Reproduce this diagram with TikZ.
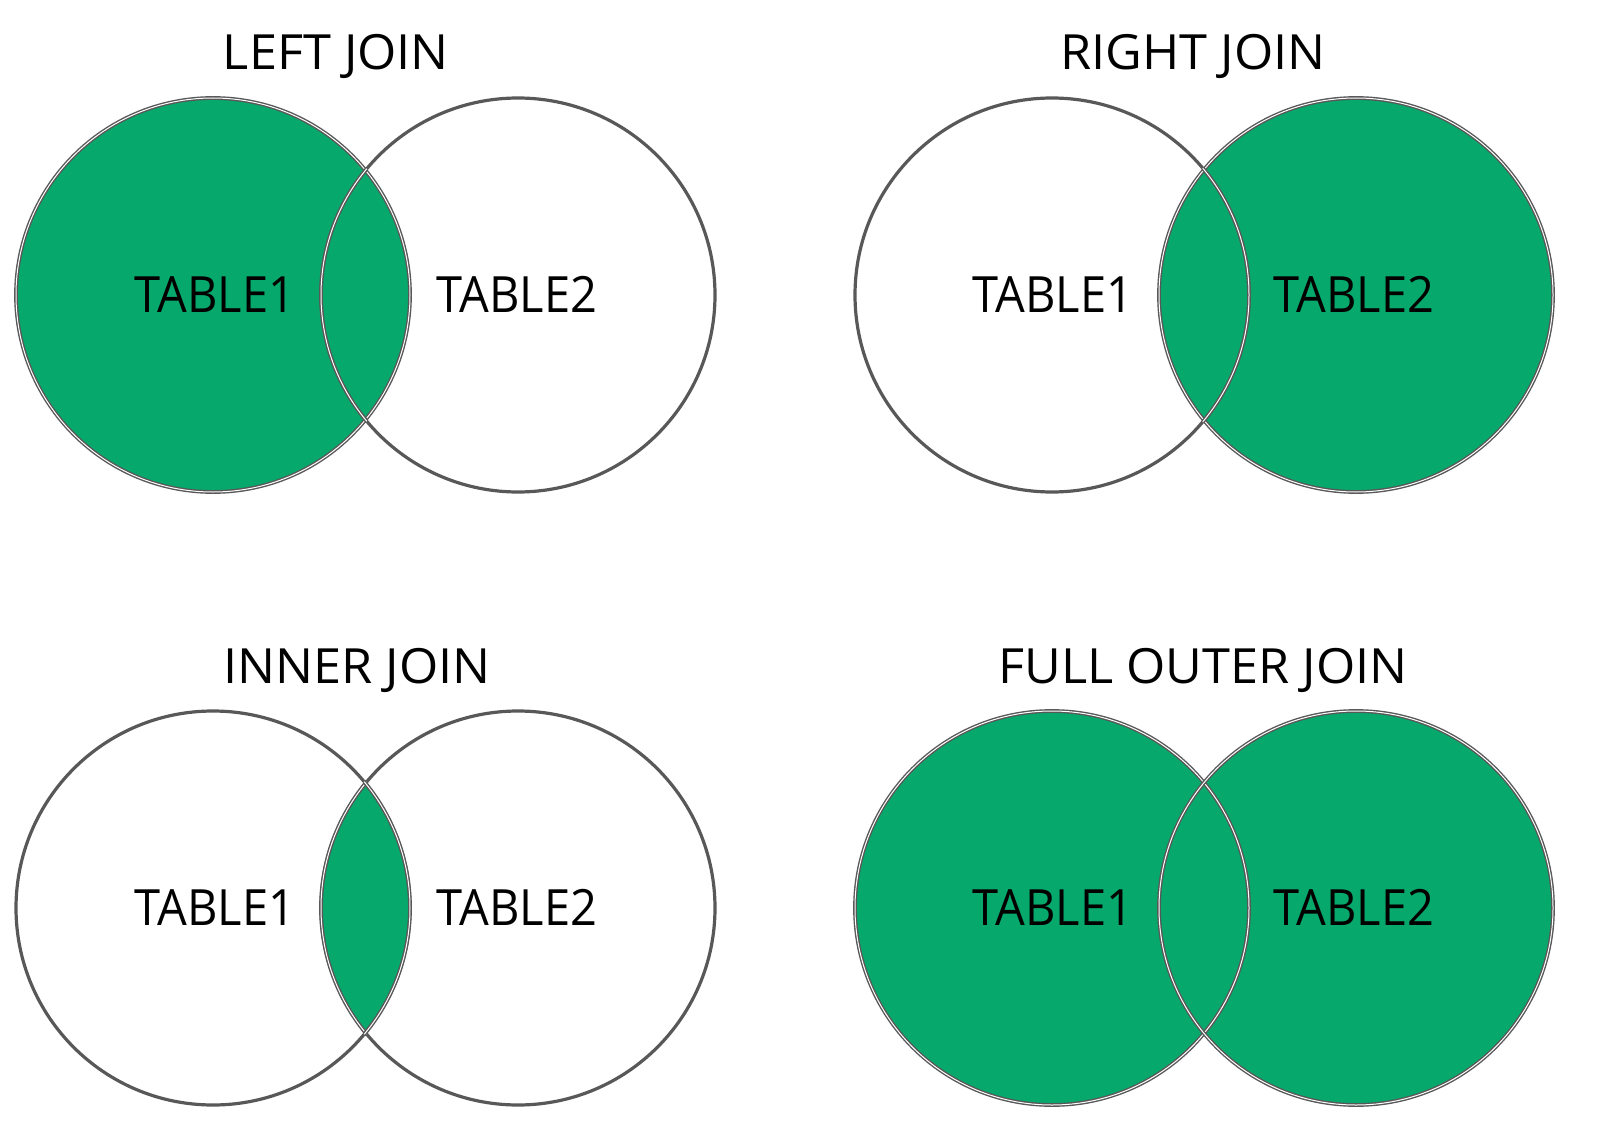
\documentclass[tikz,border=0pt]{standalone}
\usepackage{fontspec}
\setmainfont{Open Sans}
\newfontfamily\lblfont[FakeStretch=0.94]{Open Sans}
\newfontfamily\ttlfont[FakeStretch=1.04]{Open Sans}
\definecolor{joingreen}{RGB}{6,168,107}
\definecolor{edgegray}{RGB}{88,88,88}
\begin{document}
\begin{tikzpicture}[x=1pt,y=-1pt,
  edge/.style={draw=edgegray,line width=3.2pt},
  dedge/.style={draw=edgegray,line width=1.4pt,double=white,double distance=1pt},
  lbl/.style={anchor=base,inner sep=0pt,font=\lblfont\fontsize{50}{60}\selectfont},
  ttl/.style={anchor=base,inner sep=0pt,font=\ttlfont\fontsize{48.5}{58}\selectfont}]
\useasboundingbox (0,0) rectangle (1598,1134);
\def\R{197}
% ---------- LEFT JOIN ----------
\fill[joingreen] (213,295) circle[radius=\R];
\draw[edge] (518,295) circle[radius=\R];
\draw[dedge] (213,295) circle[radius=\R];
\begin{scope}\clip (213,295) circle[radius=\R+2];
\draw[dedge] (518,295) circle[radius=\R];\end{scope}
\node[ttl] (t1) at (336,70) {LEFT JOIN};
\node[lbl] (a1) at (215,312) {TABLE1};
\node[lbl] (b1) at (517,312) {TABLE2};
% ---------- RIGHT JOIN ----------
\fill[joingreen] (1356,295) circle[radius=\R];
\draw[edge] (1052,295) circle[radius=\R];
\draw[dedge] (1356,295) circle[radius=\R];
\begin{scope}\clip (1356,295) circle[radius=\R+2];
\draw[dedge] (1052,295) circle[radius=\R];\end{scope}
\node[ttl] (t2) at (1193,70) {RIGHT JOIN};
\node[lbl] (a2) at (1053,312) {TABLE1};
\node[lbl] (b2) at (1354,312) {TABLE2};
% ---------- INNER JOIN ----------
\begin{scope}\clip (213,908) circle[radius=\R];
\fill[joingreen] (518,908) circle[radius=\R];\end{scope}
\draw[edge] (213,908) circle[radius=\R];
\draw[edge] (518,908) circle[radius=\R];
\begin{scope}\clip (213,908) circle[radius=\R+2];
\draw[dedge] (518,908) circle[radius=\R];\end{scope}
\begin{scope}\clip (518,908) circle[radius=\R+2];
\draw[dedge] (213,908) circle[radius=\R];\end{scope}
\node[ttl] (t3) at (357,683) {INNER JOIN};
\node[lbl] (a3) at (215,925) {TABLE1};
\node[lbl] (b3) at (517,925) {TABLE2};
% ---------- FULL OUTER JOIN ----------
\fill[joingreen] (1052,908) circle[radius=\R];
\fill[joingreen] (1356,908) circle[radius=\R];
\draw[dedge] (1052,908) circle[radius=\R];
\draw[dedge] (1356,908) circle[radius=\R];
\node[ttl] (t4) at (1203,683) {FULL OUTER JOIN};
\node[lbl] (a4) at (1053,925) {TABLE1};
\node[lbl] (b4) at (1354,925) {TABLE2};
\end{tikzpicture}
\end{document}
